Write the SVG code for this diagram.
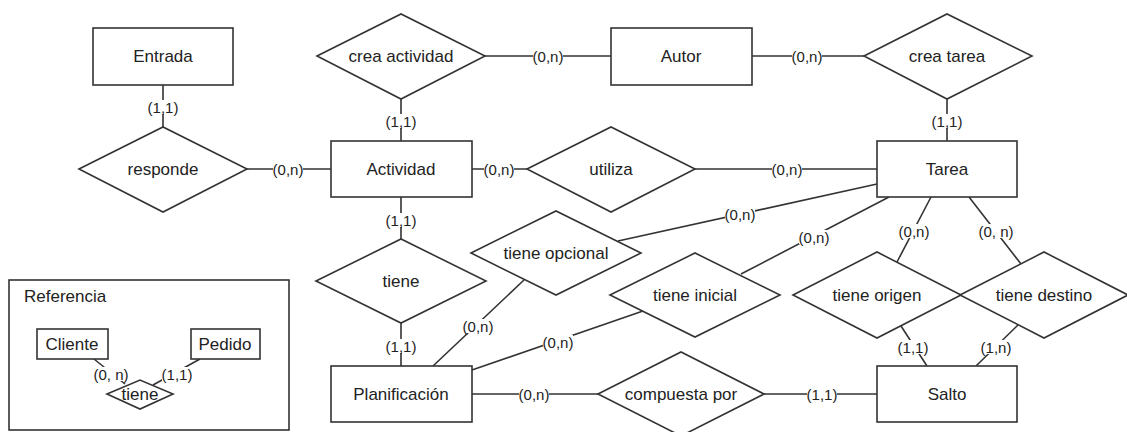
<svg xmlns="http://www.w3.org/2000/svg" width="1127" height="432" viewBox="0 0 1127 432">
<style>
.s{fill:#fff;stroke:#333;stroke-width:1.6}
.t{font-family:"Liberation Sans",Arial,sans-serif;font-size:17px;fill:#222;text-anchor:middle;dominant-baseline:central}
.l{font-family:"Liberation Sans",Arial,sans-serif;font-size:15px;fill:#222;text-anchor:middle;dominant-baseline:central}
.b{fill:#fff}
.c{stroke:#333;stroke-width:1.6;fill:none}
</style>
<rect width="1127" height="432" fill="#fff"/>
<g id="connectors">
<path class="c" d="M163,85V127M247,169H331M401,99V141M485,56H611M752,56H864M947,99V141M472,169H527M695,169H877M401,197V239M401,323V366M618,241L877,184M524,280L433,366M643,311L472,370M741,274L889,197M931,197L897,262M969,197L1021,264M901,326L927,366M1018,325L976,366M472,394H598M764,394H877"/>
<g class="b">
<rect x="148" y="100" width="30" height="14"/>
<rect x="273" y="162" width="30" height="14"/>
<rect x="386" y="114" width="30" height="14"/>
<rect x="533" y="49" width="30" height="14"/>
<rect x="792" y="49" width="30" height="14"/>
<rect x="932" y="114" width="30" height="14"/>
<rect x="484" y="162" width="30" height="14"/>
<rect x="772" y="162" width="30" height="14"/>
<rect x="386" y="213" width="30" height="14"/>
<rect x="386" y="339" width="30" height="14"/>
<rect x="725" y="207" width="30" height="14"/>
<rect x="463" y="319" width="30" height="14"/>
<rect x="543" y="335" width="30" height="14"/>
<rect x="799" y="230" width="30" height="14"/>
<rect x="899" y="224" width="30" height="14"/>
<rect x="979" y="224" width="34" height="14"/>
<rect x="898" y="340" width="30" height="14"/>
<rect x="981" y="340" width="30" height="14"/>
<rect x="519" y="387" width="30" height="14"/>
<rect x="807" y="387" width="30" height="14"/>
</g>
<text class="l" x="163" y="107">(1,1)</text>
<text class="l" x="288" y="169">(0,n)</text>
<text class="l" x="401" y="121">(1,1)</text>
<text class="l" x="548" y="56">(0,n)</text>
<text class="l" x="807" y="56">(0,n)</text>
<text class="l" x="947" y="121">(1,1)</text>
<text class="l" x="499" y="169">(0,n)</text>
<text class="l" x="787" y="169">(0,n)</text>
<text class="l" x="401" y="220">(1,1)</text>
<text class="l" x="401" y="346">(1,1)</text>
<text class="l" x="740" y="214">(0,n)</text>
<text class="l" x="478" y="326">(0,n)</text>
<text class="l" x="558" y="342">(0,n)</text>
<text class="l" x="814" y="237">(0,n)</text>
<text class="l" x="914" y="231">(0,n)</text>
<text class="l" x="996" y="231">(0, n)</text>
<text class="l" x="913" y="347">(1,1)</text>
<text class="l" x="996" y="347">(1,n)</text>
<text class="l" x="534" y="394">(0,n)</text>
<text class="l" x="822" y="394">(1,1)</text>
</g>
<g id="entrada"><rect class="s" x="93" y="28" width="140" height="57"/><text class="t" x="163" y="56">Entrada</text></g>
<g id="responde"><polygon class="s" points="79,169 163,127 247,169 163,212"/><text class="t" x="163" y="169">responde</text></g>
<g id="crea-actividad"><polygon class="s" points="317,56 401,14 485,56 401,99"/><text class="t" x="401" y="56">crea actividad</text></g>
<g id="autor"><rect class="s" x="611" y="28" width="141" height="57"/><text class="t" x="681" y="56">Autor</text></g>
<g id="crea-tarea"><polygon class="s" points="864,56 947,14 1032,56 947,99"/><text class="t" x="947" y="56">crea tarea</text></g>
<g id="actividad"><rect class="s" x="331" y="141" width="141" height="56"/><text class="t" x="401" y="169">Actividad</text></g>
<g id="utiliza"><polygon class="s" points="527,169 611,127 695,169 611,212"/><text class="t" x="611" y="169">utiliza</text></g>
<g id="tarea"><rect class="s" x="877" y="141" width="140" height="56"/><text class="t" x="947" y="169">Tarea</text></g>
<g id="tiene"><polygon class="s" points="316,281 401,239 486,281 401,323"/><text class="t" x="401" y="281">tiene</text></g>
<g id="tiene-opcional"><polygon class="s" points="471,253 556,211 641,253 556,295"/><text class="t" x="556" y="253">tiene opcional</text></g>
<g id="tiene-inicial"><polygon class="s" points="610,295 695,253 780,295 695,337"/><text class="t" x="695" y="295">tiene inicial</text></g>
<g id="tiene-origen"><polygon class="s" points="793,295 877,252 961,295 877,338"/><text class="t" x="877" y="295">tiene origen</text></g>
<g id="tiene-destino"><polygon class="s" points="960,295 1044,252 1128,295 1044,338"/><text class="t" x="1044" y="295">tiene destino</text></g>
<g id="planificacion"><rect class="s" x="331" y="366" width="141" height="56"/><text class="t" x="401" y="394">Planificación</text></g>
<g id="compuesta-por"><polygon class="s" points="598,394 681,352 764,394 681,436"/><text class="t" x="681" y="394">compuesta por</text></g>
<g id="salto"><rect class="s" x="877" y="366" width="140" height="56"/><text class="t" x="947" y="394">Salto</text></g>
<g id="referencia">
<rect class="s" x="9" y="280" width="280" height="150"/>
<text class="t" x="24" y="296" style="text-anchor:start">Referencia</text>
<path class="c" d="M94,359L125,384M200,359L153,385"/>
<rect class="s" x="37" y="329" width="71" height="30"/><text class="t" x="72" y="344">Cliente</text>
<rect class="s" x="191" y="329" width="69" height="30"/><text class="t" x="225" y="344">Pedido</text>
<polygon class="s" points="107,394 140,380 173,394 140,409"/><text class="t" x="140" y="394">tiene</text>
<rect class="b" x="94" y="367" width="34" height="14"/>
<rect class="b" x="162" y="367" width="30" height="14"/>
<text class="l" x="111" y="374">(0, n)</text>
<text class="l" x="177" y="374">(1,1)</text>
</g>
</svg>
